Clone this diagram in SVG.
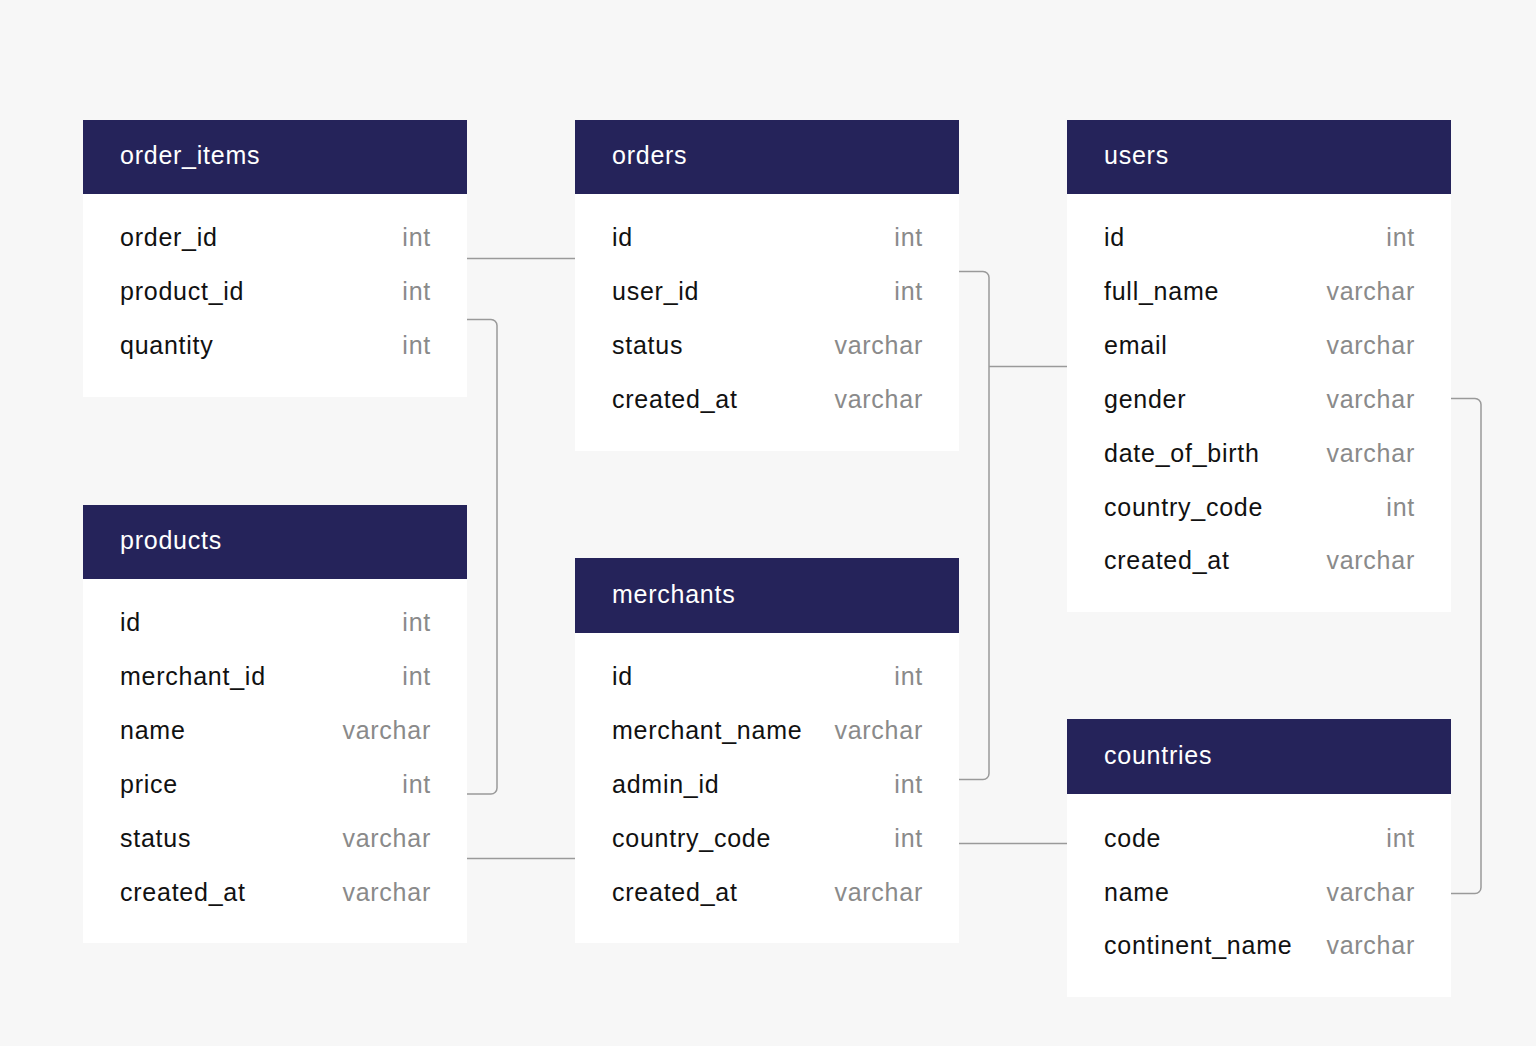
<svg xmlns="http://www.w3.org/2000/svg" width="1536" height="1046" viewBox="0 0 1536 1046">
<style>
.hd{fill:#25235A}
.bd{fill:#FFFFFF}
.t{font-family:"Liberation Sans",Arial,sans-serif;font-size:25px;letter-spacing:0.75px}
.ti{fill:#FFFFFF}
.f{fill:#111111}
.ty{fill:#8A8A8A;text-anchor:end}
.c{fill:none;stroke:#9A9A9A;stroke-width:1.5}
</style>
<rect width="1536" height="1046" fill="#F7F7F7"/>
<g id="connectors">
<path class="c" d="M467 258.5H575"/>
<path class="c" d="M467 319.5H491a6 6 0 0 1 6 6V788a6 6 0 0 1-6 6H467"/>
<path class="c" d="M467 858.5H575"/>
<path class="c" d="M959 271.5H983a6 6 0 0 1 6 6V773.5a6 6 0 0 1-6 6H959"/>
<path class="c" d="M989 366.5H1067"/>
<path class="c" d="M959 843.5H1067"/>
<path class="c" d="M1451 398.5H1475a6 6 0 0 1 6 6V887.5a6 6 0 0 1-6 6H1451"/>
</g>
<g id="order_items">
<rect class="bd" x="83" y="194" width="384" height="203"/>
<rect class="hd" x="83" y="120" width="384" height="74"/>
<text class="t ti" x="120" y="164">order_items</text>
<text class="t f" x="120" y="246">order_id</text><text class="t ty" x="431" y="246">int</text>
<text class="t f" x="120" y="300">product_id</text><text class="t ty" x="431" y="300">int</text>
<text class="t f" x="120" y="354">quantity</text><text class="t ty" x="431" y="354">int</text>
</g>
<g id="orders">
<rect class="bd" x="575" y="194" width="384" height="257"/>
<rect class="hd" x="575" y="120" width="384" height="74"/>
<text class="t ti" x="612" y="164">orders</text>
<text class="t f" x="612" y="246">id</text><text class="t ty" x="923" y="246">int</text>
<text class="t f" x="612" y="300">user_id</text><text class="t ty" x="923" y="300">int</text>
<text class="t f" x="612" y="354">status</text><text class="t ty" x="923" y="354">varchar</text>
<text class="t f" x="612" y="408">created_at</text><text class="t ty" x="923" y="408">varchar</text>
</g>
<g id="users">
<rect class="bd" x="1067" y="194" width="384" height="418"/>
<rect class="hd" x="1067" y="120" width="384" height="74"/>
<text class="t ti" x="1104" y="164">users</text>
<text class="t f" x="1104" y="246">id</text><text class="t ty" x="1415" y="246">int</text>
<text class="t f" x="1104" y="300">full_name</text><text class="t ty" x="1415" y="300">varchar</text>
<text class="t f" x="1104" y="354">email</text><text class="t ty" x="1415" y="354">varchar</text>
<text class="t f" x="1104" y="408">gender</text><text class="t ty" x="1415" y="408">varchar</text>
<text class="t f" x="1104" y="462">date_of_birth</text><text class="t ty" x="1415" y="462">varchar</text>
<text class="t f" x="1104" y="516">country_code</text><text class="t ty" x="1415" y="516">int</text>
<text class="t f" x="1104" y="569">created_at</text><text class="t ty" x="1415" y="569">varchar</text>
</g>
<g id="products">
<rect class="bd" x="83" y="579" width="384" height="364"/>
<rect class="hd" x="83" y="505" width="384" height="74"/>
<text class="t ti" x="120" y="549">products</text>
<text class="t f" x="120" y="631">id</text><text class="t ty" x="431" y="631">int</text>
<text class="t f" x="120" y="685">merchant_id</text><text class="t ty" x="431" y="685">int</text>
<text class="t f" x="120" y="739">name</text><text class="t ty" x="431" y="739">varchar</text>
<text class="t f" x="120" y="793">price</text><text class="t ty" x="431" y="793">int</text>
<text class="t f" x="120" y="847">status</text><text class="t ty" x="431" y="847">varchar</text>
<text class="t f" x="120" y="901">created_at</text><text class="t ty" x="431" y="901">varchar</text>
</g>
<g id="merchants">
<rect class="bd" x="575" y="633" width="384" height="310"/>
<rect class="hd" x="575" y="558" width="384" height="75"/>
<text class="t ti" x="612" y="603">merchants</text>
<text class="t f" x="612" y="685">id</text><text class="t ty" x="923" y="685">int</text>
<text class="t f" x="612" y="739">merchant_name</text><text class="t ty" x="923" y="739">varchar</text>
<text class="t f" x="612" y="793">admin_id</text><text class="t ty" x="923" y="793">int</text>
<text class="t f" x="612" y="847">country_code</text><text class="t ty" x="923" y="847">int</text>
<text class="t f" x="612" y="901">created_at</text><text class="t ty" x="923" y="901">varchar</text>
</g>
<g id="countries">
<rect class="bd" x="1067" y="794" width="384" height="203"/>
<rect class="hd" x="1067" y="719" width="384" height="75"/>
<text class="t ti" x="1104" y="764">countries</text>
<text class="t f" x="1104" y="847">code</text><text class="t ty" x="1415" y="847">int</text>
<text class="t f" x="1104" y="901">name</text><text class="t ty" x="1415" y="901">varchar</text>
<text class="t f" x="1104" y="954">continent_name</text><text class="t ty" x="1415" y="954">varchar</text>
</g>
</svg>
